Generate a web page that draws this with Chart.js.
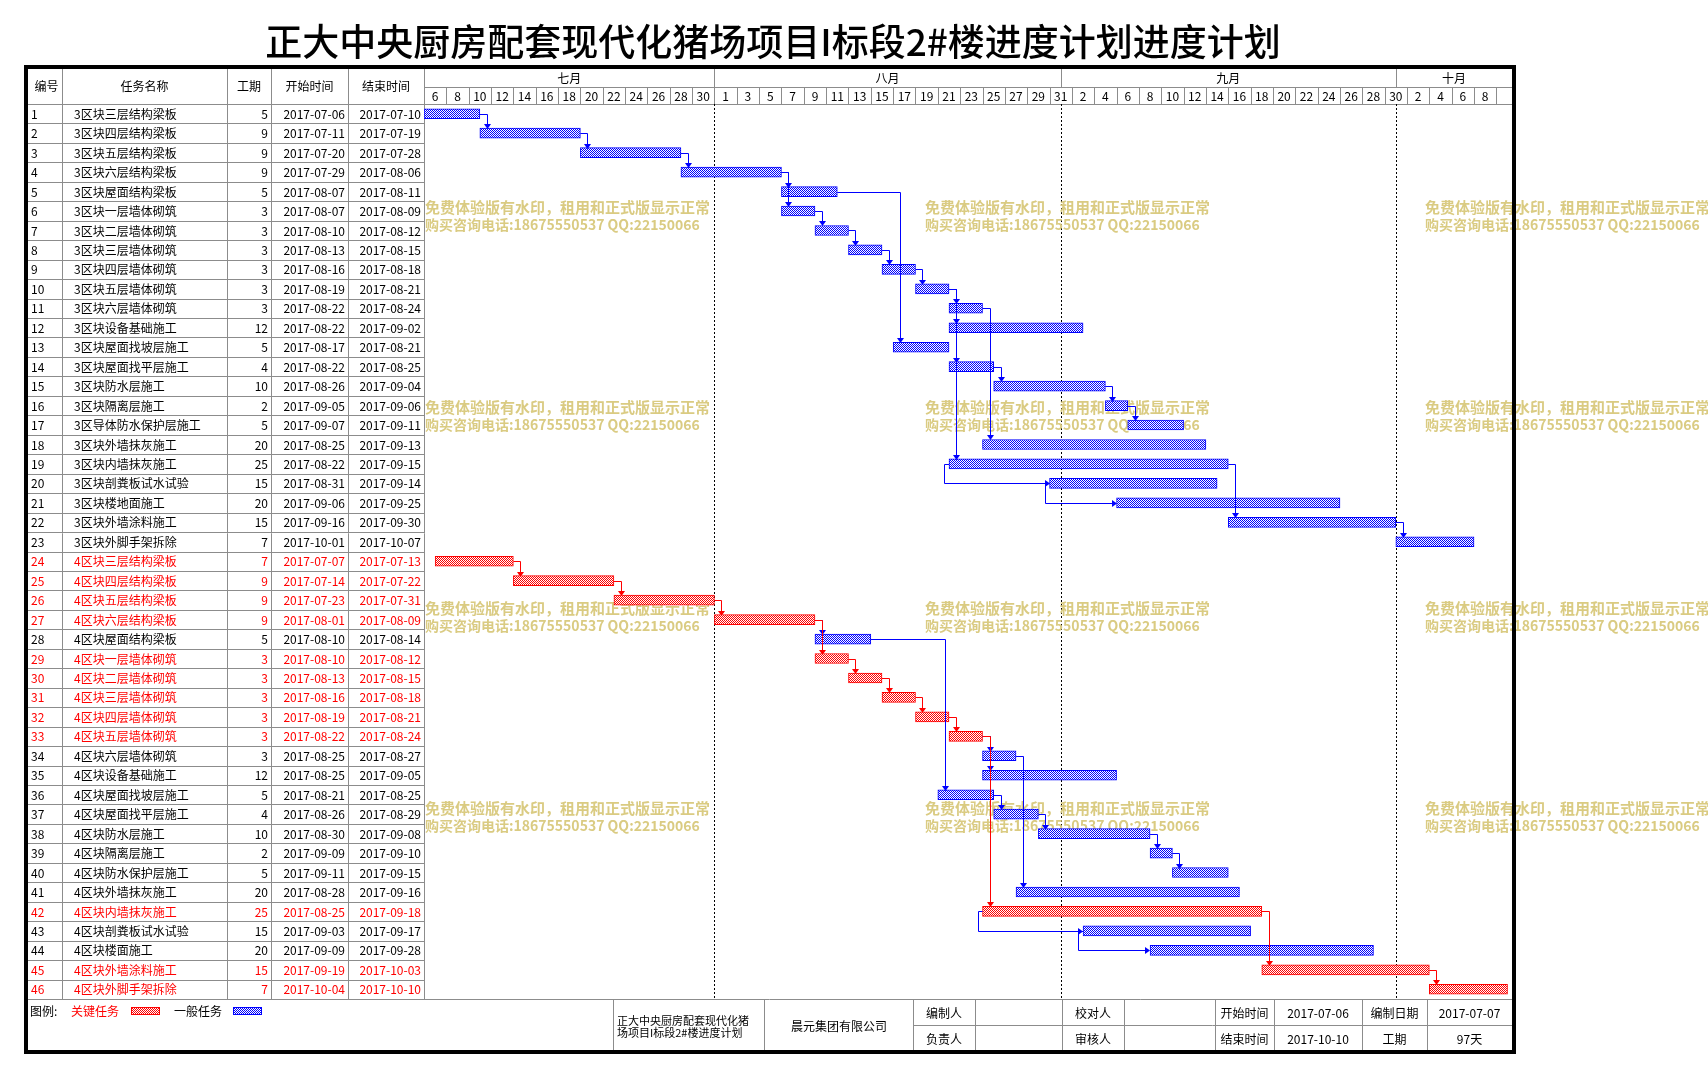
<!DOCTYPE html>
<html>
<head>
<meta charset="utf-8">
<script src="https://cdn.jsdelivr.net/npm/chart.js@4.4.1/dist/chart.umd.min.js"></script>
<style>
  html, body { margin: 0; padding: 0; background: #fff; overflow: hidden; }
  canvas { display: block; }
</style>
</head>
<body>
<canvas id="gantt" width="1708" height="1076"></canvas>
<script>
// ---- data ----
const chartTitle = '正大中央厨房配套现代化猪场项目I标段2#楼进度计划进度计划';

const taskNames = [
  '3区块三层结构梁板', '3区块四层结构梁板', '3区块五层结构梁板', '3区块六层结构梁板', '3区块屋面结构梁板',
  '3区块一层墙体砌筑', '3区块二层墙体砌筑', '3区块三层墙体砌筑', '3区块四层墙体砌筑', '3区块五层墙体砌筑',
  '3区块六层墙体砌筑', '3区块设备基础施工', '3区块屋面找坡层施工', '3区块屋面找平层施工', '3区块防水层施工',
  '3区块隔离层施工', '3区导体防水保护层施工', '3区块外墙抹灰施工', '3区块内墙抹灰施工', '3区块剖粪板试水试验',
  '3区块楼地面施工', '3区块外墙涂料施工', '3区块外脚手架拆除',
  '4区块三层结构梁板', '4区块四层结构梁板', '4区块五层结构梁板', '4区块六层结构梁板', '4区块屋面结构梁板',
  '4区块一层墙体砌筑', '4区块二层墙体砌筑', '4区块三层墙体砌筑', '4区块四层墙体砌筑', '4区块五层墙体砌筑',
  '4区块六层墙体砌筑', '4区块设备基础施工', '4区块屋面找坡层施工', '4区块屋面找平层施工', '4区块防水层施工',
  '4区块隔离层施工', '4区块防水保护层施工', '4区块外墙抹灰施工', '4区块内墙抹灰施工', '4区块剖粪板试水试验',
  '4区块楼面施工', '4区块外墙涂料施工', '4区块外脚手架拆除'
];
const durations = [5, 9, 9, 9, 5, 3, 3, 3, 3, 3, 3, 12, 5, 4, 10, 2, 5, 20, 25, 15, 20, 15, 7,
                   7, 9, 9, 9, 5, 3, 3, 3, 3, 3, 3, 12, 5, 4, 10, 2, 5, 20, 25, 15, 20, 15, 7];
const startDates = [
  '2017-07-06', '2017-07-11', '2017-07-20', '2017-07-29', '2017-08-07', '2017-08-07', '2017-08-10', '2017-08-13',
  '2017-08-16', '2017-08-19', '2017-08-22', '2017-08-22', '2017-08-17', '2017-08-22', '2017-08-26', '2017-09-05',
  '2017-09-07', '2017-08-25', '2017-08-22', '2017-08-31', '2017-09-06', '2017-09-16', '2017-10-01',
  '2017-07-07', '2017-07-14', '2017-07-23', '2017-08-01', '2017-08-10', '2017-08-10', '2017-08-13', '2017-08-16',
  '2017-08-19', '2017-08-22', '2017-08-25', '2017-08-25', '2017-08-21', '2017-08-26', '2017-08-30', '2017-09-09',
  '2017-09-11', '2017-08-28', '2017-08-25', '2017-09-03', '2017-09-09', '2017-09-19', '2017-10-04'
];
const endDates = [
  '2017-07-10', '2017-07-19', '2017-07-28', '2017-08-06', '2017-08-11', '2017-08-09', '2017-08-12', '2017-08-15',
  '2017-08-18', '2017-08-21', '2017-08-24', '2017-09-02', '2017-08-21', '2017-08-25', '2017-09-04', '2017-09-06',
  '2017-09-11', '2017-09-13', '2017-09-15', '2017-09-14', '2017-09-25', '2017-09-30', '2017-10-07',
  '2017-07-13', '2017-07-22', '2017-07-31', '2017-08-09', '2017-08-14', '2017-08-12', '2017-08-15', '2017-08-18',
  '2017-08-21', '2017-08-24', '2017-08-27', '2017-09-05', '2017-08-25', '2017-08-29', '2017-09-08', '2017-09-10',
  '2017-09-15', '2017-09-16', '2017-09-18', '2017-09-17', '2017-09-28', '2017-10-03', '2017-10-10'
];
// tasks on the critical path (red)
const criticalTasks = [24, 25, 26, 27, 29, 30, 31, 32, 33, 42, 45, 46];
// [predecessor, successor, type]
const links = [
  [1, 2, 'FS'], [2, 3, 'FS'], [3, 4, 'FS'], [4, 5, 'FS'], [4, 6, 'FS'], [5, 13, 'FS'],
  [6, 7, 'FS'], [7, 8, 'FS'], [8, 9, 'FS'], [9, 10, 'FS'], [10, 11, 'FS'], [10, 12, 'FS'],
  [10, 14, 'FS'], [10, 19, 'FS'], [11, 18, 'FS'], [14, 15, 'FS'], [15, 16, 'FS'], [16, 17, 'FS'],
  [19, 20, 'SS'], [20, 21, 'SS'], [19, 22, 'FS'], [22, 23, 'FS'],
  [24, 25, 'FS'], [25, 26, 'FS'], [26, 27, 'FS'], [27, 28, 'FS'], [27, 29, 'FS'], [28, 36, 'FS'],
  [29, 30, 'FS'], [30, 31, 'FS'], [31, 32, 'FS'], [32, 33, 'FS'], [33, 34, 'FS'], [33, 35, 'FS'],
  [33, 42, 'FS'], [34, 41, 'FS'], [36, 37, 'FS'], [37, 38, 'FS'], [38, 39, 'FS'], [39, 40, 'FS'],
  [42, 45, 'FS'], [45, 46, 'FS'], [42, 43, 'SS'], [43, 44, 'SS']
];

const tableHeaders = ['编号', '任务名称', '工期', '开始时间', '结束时间'];
const monthLabels = ['七月', '八月', '九月', '十月'];
const monthStarts = ['2017-07-06', '2017-08-01', '2017-09-01', '2017-10-01'];
// one label per two-day header cell, starting 2017-07-06
const dayLabels = ['6', '8', '10', '12', '14', '16', '18', '20', '22', '24', '26', '28', '30',
                   '1', '3', '5', '7', '9', '11', '13', '15', '17', '19', '21', '23', '25', '27', '29', '31',
                   '2', '4', '6', '8', '10', '12', '14', '16', '18', '20', '22', '24', '26', '28', '30',
                   '2', '4', '6', '8', ''];

const projectStart = '2017-07-06';
const projectEnd = '2017-10-10';
const madeDate = '2017-07-07';
const totalDaysText = '97天';
const companyName = '晨元集团有限公司';
const watermark1 = '免费体验版有水印，租用和正式版显示正常';
const watermark2 = '购买咨询电话:18675550537 QQ:22150066';

// ---- helpers ----
const dayOf = s => {
  const [y, m, d] = s.split('-').map(Number);
  return (Date.UTC(y, m - 1, d) - Date.UTC(2017, 6, 6)) / 864e5;
};
const bars = startDates.map((s, i) => [dayOf(s), dayOf(endDates[i]) + 1]);
const isCrit = n => criticalTasks.includes(n);

const canvas = document.getElementById('gantt');
const ctx0 = canvas.getContext('2d');
function makePattern(color) {
  const p = document.createElement('canvas');
  p.width = 2; p.height = 2;
  const g = p.getContext('2d');
  g.fillStyle = '#fff'; g.fillRect(0, 0, 2, 2);
  g.fillStyle = color; g.fillRect(0, 0, 1, 1); g.fillRect(1, 1, 1, 1);
  return ctx0.createPattern(p, 'repeat');
}
const RED = '#ff0000', BLUE = '#0000ff', GRID = '#8c8c8c';
const redFill = makePattern(RED), blueFill = makePattern(BLUE);

const FONT = '"Noto Sans CJK SC", "Noto Sans", sans-serif';
const cr = v => Math.round(v) + 0.5;
function hline(ctx, x1, x2, y) { ctx.beginPath(); ctx.moveTo(x1, cr(y)); ctx.lineTo(x2, cr(y)); ctx.stroke(); }
function vline(ctx, x, y1, y2) { ctx.beginPath(); ctx.moveTo(cr(x), y1); ctx.lineTo(cr(x), y2); ctx.stroke(); }

// table columns (编号 | 任务名称 | 工期 | 开始时间 | 结束时间 | gantt)
const colX = [27, 62, 227, 271, 348, 424];
const headTop = 68, monthBottom = 87;

const tablePlugin = {
  id: 'tablePlugin',
  beforeDraw(chart) {
    const { ctx, chartArea: ca, scales: { x, y } } = chart;
    const n = taskNames.length;
    const rowH = (ca.bottom - ca.top) / n;
    ctx.save();
    ctx.fillStyle = '#fff';
    ctx.fillRect(0, 0, chart.width, chart.height);

    // title
    ctx.fillStyle = '#000';
    ctx.font = '500 37px ' + FONT;
    ctx.textAlign = 'center';
    ctx.textBaseline = 'middle';
    ctx.fillText(chartTitle, 773, 42);

    // grid
    ctx.strokeStyle = GRID;
    ctx.lineWidth = 1;
    for (let k = 0; k <= n; k++) hline(ctx, colX[0], colX[5], ca.top + k * rowH);
    hline(ctx, colX[5], ca.right, ca.top);
    hline(ctx, colX[0], ca.right, ca.bottom);
    hline(ctx, colX[5], ca.right, monthBottom);
    colX.forEach(cx => vline(ctx, cx, headTop, ca.bottom));

    // header text
    ctx.fillStyle = '#000';
    ctx.font = '12px ' + FONT;
    tableHeaders.forEach((h, i) => ctx.fillText(h, (colX[i] + colX[i + 1]) / 2 + (i === 0 ? 2 : 0), (headTop + ca.top) / 2));

    // month row
    const mx = monthStarts.map(d => x.getPixelForValue(dayOf(d)));
    mx.forEach((px, i) => {
      if (i > 0) vline(ctx, px, headTop, monthBottom);
      const right = i < mx.length - 1 ? mx[i + 1] : ca.right;
      ctx.fillText(monthLabels[i], (px + right) / 2, (headTop + monthBottom) / 2 + 1);
    });
    // day row
    dayLabels.forEach((lab, k) => {
      const a = x.getPixelForValue(2 * k);
      const b = Math.min(x.getPixelForValue(2 * k + 2), ca.right);
      if (k > 0) vline(ctx, a, monthBottom, ca.top);
      if (lab) ctx.fillText(lab, (a + b) / 2, (monthBottom + ca.top) / 2 + 1);
    });

    // row text
    for (let i = 0; i < n; i++) {
      const yy = y.getPixelForValue(i) + 0.5;
      ctx.fillStyle = isCrit(i + 1) ? RED : '#000';
      ctx.textAlign = 'left';
      ctx.fillText(String(i + 1), 31, yy);
      ctx.fillText(taskNames[i], 74, yy);
      ctx.textAlign = 'right';
      ctx.fillText(String(durations[i]), 268, yy);
      ctx.fillText(startDates[i], 345, yy);
      ctx.fillText(endDates[i], 421, yy);
    }

    // dotted month lines in the gantt area
    ctx.strokeStyle = '#000';
    ctx.setLineDash([2, 2]);
    mx.slice(1).forEach(px => vline(ctx, px, ca.top, ca.bottom));
    ctx.setLineDash([]);

    // footer
    const fTop = ca.bottom, fBot = 1051, fMid = 1025;
    ctx.strokeStyle = GRID;
    [613, 764, 913, 975, 1062, 1124, 1215, 1274, 1362, 1427].forEach(fx => vline(ctx, fx, fTop, fBot));
    hline(ctx, 913, ca.right, fMid);
    ctx.textAlign = 'left';
    ctx.fillStyle = '#000';
    ctx.fillText('图例:', 30, 1011);
    ctx.fillStyle = RED;
    ctx.fillText('关键任务', 71, 1011);
    ctx.fillStyle = '#000';
    ctx.fillText('一般任务', 174, 1011);
    [[131, redFill, RED], [233, blueFill, BLUE]].forEach(([lx, fill, col]) => {
      ctx.fillStyle = fill; ctx.fillRect(lx, 1007, 29, 8);
      ctx.strokeStyle = col; ctx.strokeRect(lx + 0.5, 1007.5, 28, 7);
    });
    ctx.fillStyle = '#000';
    ctx.font = '11px ' + FONT;
    ctx.fillText(chartTitle.slice(0, 12), 617, 1021);
    ctx.fillText(chartTitle.slice(12, 25), 617, 1033);
    ctx.font = '12px ' + FONT;
    ctx.textAlign = 'center';
    ctx.fillText(companyName, 839, 1026);
    const cells = [
      [913, 975, '编制人', '负责人'], [975, 1062, '', ''], [1062, 1124, '校对人', '审核人'], [1124, 1215, '', ''],
      [1215, 1274, '开始时间', '结束时间'], [1274, 1362, projectStart, projectEnd],
      [1362, 1427, '编制日期', '工期'], [1427, ca.right, madeDate, totalDaysText]
    ];
    cells.forEach(([a, b, t1, t2]) => {
      ctx.fillText(t1, (a + b) / 2, (fTop + fMid) / 2 + 1);
      ctx.fillText(t2, (a + b) / 2, (fMid + fBot) / 2 + 1);
    });

    // trial-version watermark
    ctx.fillStyle = '#dacb82';
    ctx.textAlign = 'left';
    [425, 925, 1425].forEach(wx => {
      [207, 407, 608, 808].forEach(wy => {
        ctx.font = 'bold 15px ' + FONT;
        ctx.fillText(watermark1, wx, wy);
        ctx.font = 'bold 14px ' + FONT;
        ctx.fillText(watermark2, wx, wy + 18);
      });
    });
    ctx.restore();
  },
  afterDatasetsDraw(chart) {
    const { ctx, chartArea: ca, scales: { x, y } } = chart;
    const half = 5;
    ctx.save();
    ctx.lineWidth = 1;
    links.forEach(([p, s, type]) => {
      const pi = p - 1, si = s - 1;
      const col = isCrit(p) && isCrit(s) ? RED : BLUE;
      ctx.strokeStyle = col; ctx.fillStyle = col;
      const py = cr(y.getPixelForValue(pi)), sy = cr(y.getPixelForValue(si));
      if (type === 'FS') {
        const pe = x.getPixelForValue(bars[pi][1]);
        const vx = cr(Math.max(pe, x.getPixelForValue(bars[si][0])) + 7);
        const tip = Math.round(sy - half);
        ctx.beginPath();
        ctx.moveTo(pe, py); ctx.lineTo(vx, py); ctx.lineTo(vx, tip - 3);
        ctx.stroke();
        ctx.beginPath();
        ctx.moveTo(vx - 3.5, tip - 5); ctx.lineTo(vx + 3.5, tip - 5); ctx.lineTo(vx, tip);
        ctx.closePath(); ctx.fill();
      } else {
        const ps = x.getPixelForValue(bars[pi][0]);
        const ss = Math.round(x.getPixelForValue(bars[si][0]));
        const vx = cr(ps - 5);
        ctx.beginPath();
        ctx.moveTo(ps, py); ctx.lineTo(vx, py); ctx.lineTo(vx, sy); ctx.lineTo(ss - 3, sy);
        ctx.stroke();
        ctx.beginPath();
        ctx.moveTo(ss - 5, sy - 3.5); ctx.lineTo(ss - 5, sy + 3.5); ctx.lineTo(ss, sy);
        ctx.closePath(); ctx.fill();
      }
    });
    // thick outer frame
    ctx.strokeStyle = '#000';
    ctx.lineWidth = 4;
    ctx.strokeRect(26, 67, ca.right + 2 - 26, 1052 - 67);
    ctx.restore();
  }
};

new Chart(canvas, {
  type: 'bar',
  data: {
    labels: taskNames.map((_, i) => String(i + 1)),
    datasets: [{
      data: bars,
      backgroundColor: bars.map((_, i) => isCrit(i + 1) ? redFill : blueFill),
      borderColor: bars.map((_, i) => isCrit(i + 1) ? RED : BLUE),
      borderWidth: 1,
      borderSkipped: false,
      barThickness: 10
    }]
  },
  options: {
    indexAxis: 'y',
    responsive: false,
    animation: false,
    devicePixelRatio: 1,
    layout: { padding: { left: 424, right: 196, top: 104, bottom: 77 } },
    plugins: { legend: { display: false }, tooltip: { enabled: false } },
    scales: {
      x: { type: 'linear', min: 0, max: 97.4, display: false },
      y: { type: 'category', offset: true, display: false, grid: { display: false } }
    }
  },
  plugins: [tablePlugin]
});
</script>
</body>
</html>
